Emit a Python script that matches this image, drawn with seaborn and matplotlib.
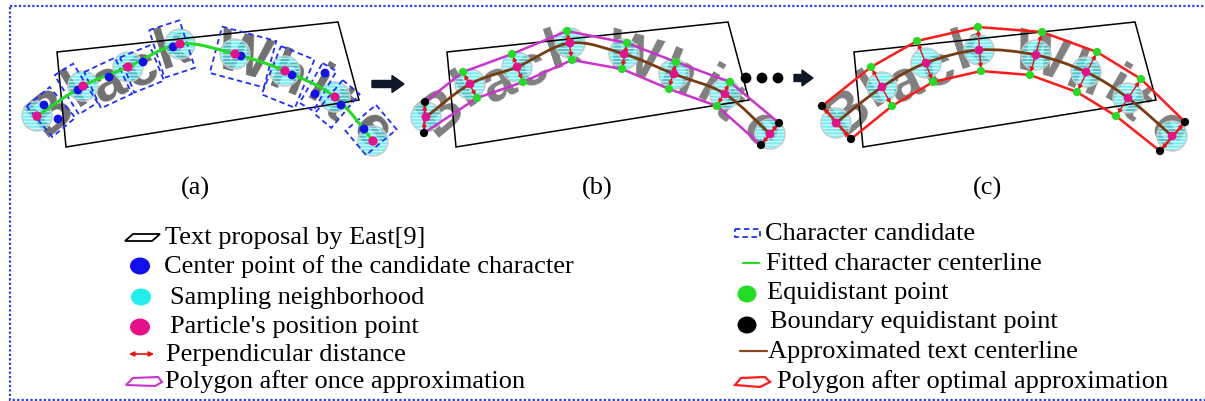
import numpy as np
import matplotlib
matplotlib.use("Agg")
import matplotlib.pyplot as plt
import seaborn as sns
from matplotlib.patches import Polygon, Rectangle, Circle, PathPatch, FancyArrow, Ellipse
from matplotlib.path import Path

# ---- data (pixel coordinates) ----
panel_labels = ["(a)", "(b)", "(c)"]
panel_dx = [0, 390, 797]
label_x = [195, 597, 988]

proposal_x = [57, 338, 359, 66]
proposal_y = [53, 23, 101, 148]

# particles (pink) per panel
a_part_x = [37, 83, 128, 180, 235, 285, 335, 373]
a_part_y = [117, 87, 68, 45, 55, 72, 98, 142]
b_part_x = [426, 470, 517, 570, 624, 674, 725, 770]
b_part_y = [118, 85, 68, 44, 55, 75, 95, 135]
c_part_x = [836, 882, 926, 979, 1036, 1086, 1128, 1172]
c_part_y = [124, 88, 64, 51, 56, 73, 99, 137]

# candidate centre points (blue) in panel (a)
center_x = [44, 58, 78, 109, 143, 173, 241, 292, 325, 315, 341, 364]
center_y = [106, 120, 91, 78, 63, 48, 57, 76, 74, 95, 106, 130]

# letters of "Black White" in panel (a)
chars = ["B", "l", "a", "c", "k", "W", "h", "i", "t", "e"]
letter_x = [51, 76, 108, 142, 172, 243, 288, 318, 337, 371]
letter_y = [113, 90, 84, 70, 50, 58, 78, 88, 105, 131]
letter_rot = [40, 32, 25, 22, 18, -15, -22, -30, -40, -50]
box_w = [30, 22, 34, 32, 32, 56, 36, 16, 22, 32]
box_h = [40, 46, 40, 38, 50, 48, 52, 46, 44, 40]

# polygon after once approximation (b)
b_upper_x = [425, 463, 512, 567, 627, 676, 730, 779]
b_upper_y = [103, 73, 55, 32, 44, 63, 83, 124]
b_lower_x = [424, 477, 523, 572, 622, 669, 717, 761]
b_lower_y = [134, 99, 83, 61, 70, 90, 107, 146]

# polygon after optimal approximation (c)
c_upper_x = [822, 871, 917, 978, 1042, 1097, 1141, 1185]
c_upper_y = [107, 68, 42, 28, 33, 53, 80, 123]
c_lower_x = [851, 892, 933, 981, 1030, 1077, 1116, 1160]
c_lower_y = [140, 107, 83, 72, 76, 93, 117, 152]

legend_left = ["Text proposal by East[9]", "Center point of the candidate character",
               "Sampling neighborhood", "Particle's position point",
               "Perpendicular distance", "Polygon after once approximation"]
legend_left_x = [165, 164, 170, 170, 166, 165]
legend_left_y = [238, 267, 298, 327, 355, 382]
legend_right = ["Character candidate", "Fitted character centerline", "Equidistant point",
                "Boundary equidistant point", "Approximated text centerline",
                "Polygon after optimal approximation"]
legend_right_x = [765, 766, 767, 770, 768, 777]
legend_right_y = [234, 264, 293, 322, 352, 382]

sns.set_theme(style="white")
plt.rcParams["hatch.linewidth"] = 1.0
serif = ["Liberation Serif", "DejaVu Serif"]

fig = plt.figure(figsize=(12.05, 4.02), dpi=100)
ax = fig.add_axes([0, 0, 1, 1])
ax.set_xlim(0, 1205)
ax.set_ylim(402, 0)
ax.axis("off")


def smooth_path(xs, ys):
    pts = np.column_stack([xs, ys]).astype(float)
    verts = [pts[0]]
    codes = [Path.MOVETO]
    n = len(pts)
    for i in range(n - 1):
        p0, p1 = pts[max(i - 1, 0)], pts[i]
        p2, p3 = pts[i + 1], pts[min(i + 2, n - 1)]
        verts += [p1 + (p2 - p0) / 6, p2 - (p3 - p1) / 6, p2]
        codes += [Path.CURVE4] * 3
    return Path(verts, codes)


def sampling_circles(xs, ys, r=15):
    for x, y in zip(xs, ys):
        ax.add_patch(Circle((x, y), r, facecolor="#2ee6ee", edgecolor="white",
                            hatch="-----", lw=0, alpha=0.65, zorder=2))
        ax.add_patch(Circle((x, y), r, facecolor="none", edgecolor="#c8c8c8",
                            lw=1, zorder=2))


# outer dotted frame
ax.add_patch(Rectangle((10, 7), 1210, 394, fill=False, ec="#2a3cf0", lw=1.6,
                       ls=(0, (1, 1)), zorder=1))

# text proposals and letters in every panel
for k, dx in enumerate(panel_dx):
    px = [x + dx for x in proposal_x]
    ax.add_patch(Polygon(np.column_stack([px, proposal_y]), closed=True, fill=False,
                         ec="black", lw=1.1, zorder=3))
    gray = "#707070" if k == 0 else "#808080"
    for ch, x, y, r in zip(chars, letter_x, letter_y, letter_rot):
        ax.text(x + dx, y, ch, rotation=r, ha="center", va="center", fontsize=41,
                fontweight="bold", color=gray, family="Liberation Sans", zorder=1.5)
    ax.text(label_x[k], 188, panel_labels[k], ha="center", va="center", fontsize=19,
            family=serif, color="black")

# panel (a): candidate boxes, circles, centerline, points
for x, y, r, w, h in zip(letter_x, letter_y, letter_rot, box_w, box_h):
    ax.add_patch(Rectangle((x - w / 2, y - h / 2), w, h, angle=-r, rotation_point="center",
                           fill=False, ec="#1f2fff", lw=1.3, ls=(0, (3, 2)), zorder=3))
sampling_circles(a_part_x, a_part_y)
ax.add_patch(PathPatch(smooth_path(a_part_x, a_part_y), fill=False, ec="#22dd22", lw=2.2,
                       zorder=4))
sns.scatterplot(x=center_x, y=center_y, color="#1010ee", s=40, edgecolor="none", ax=ax,
                zorder=5, legend=False)
sns.scatterplot(x=a_part_x, y=a_part_y, color="#e8108a", s=45, edgecolor="none", ax=ax,
                zorder=6, legend=False)

# panels (b) and (c)
for part_x, part_y, up_x, up_y, lo_x, lo_y, pcol in [
        (b_part_x, b_part_y, b_upper_x, b_upper_y, b_lower_x, b_lower_y, "#cc33cc"),
        (c_part_x, c_part_y, c_upper_x, c_upper_y, c_lower_x, c_lower_y, "#ff1a1a")]:
    sampling_circles(part_x, part_y)
    ax.add_patch(PathPatch(smooth_path(part_x, part_y), fill=False, ec="#7a3b10", lw=2,
                           zorder=4))
    poly = np.column_stack([list(up_x) + list(lo_x[::-1]), list(up_y) + list(lo_y[::-1])])
    ax.add_patch(Polygon(poly, closed=True, fill=False, ec=pcol, lw=1.8, zorder=4))
    for x1, y1, x2, y2 in zip(up_x, up_y, lo_x, lo_y):
        ax.annotate("", xy=(x1, y1), xytext=(x2, y2), zorder=5,
                    arrowprops=dict(arrowstyle="<|-|>", color="#ee1111", lw=1.0,
                                    mutation_scale=6, shrinkA=2, shrinkB=2))
    sns.scatterplot(x=part_x, y=part_y, color="#e8108a", s=40, edgecolor="none", ax=ax,
                    zorder=6, legend=False)
    sns.scatterplot(x=list(up_x[1:-1]) + list(lo_x[1:-1]),
                    y=list(up_y[1:-1]) + list(lo_y[1:-1]),
                    color="#22dd22", s=35, edgecolor="none", ax=ax, zorder=6, legend=False)
    sns.scatterplot(x=[up_x[0], up_x[-1], lo_x[0], lo_x[-1]],
                    y=[up_y[0], up_y[-1], lo_y[0], lo_y[-1]],
                    color="black", s=35, edgecolor="none", ax=ax, zorder=6, legend=False)

# arrows between panels
ax.add_patch(FancyArrow(372, 85, 20, 0, width=7, head_width=17, head_length=12,
                        color="#101828", zorder=5))
sns.scatterplot(x=[746, 762, 778], y=[79, 79, 79], color="black", s=60, edgecolor="none",
                ax=ax, zorder=5, legend=False)
ax.add_patch(FancyArrow(794, 79, 8, 0, width=7, head_width=16, head_length=11,
                        color="#101828", zorder=5))

# legend, left column
ax.add_patch(Polygon([(125, 242), (133, 235), (160, 235), (152, 242)], closed=True,
                     fill=False, ec="black", lw=1.3))
for (x, y), col in zip([(140, 267), (141, 298), (140, 328)],
                       ["#1010ee", "#22eeee", "#e8108a"]):
    ax.add_patch(Ellipse((x, y), 20, 17, color=col, lw=0))
ax.annotate("", xy=(129, 355), xytext=(154, 355),
            arrowprops=dict(arrowstyle="<|-|>", color="#ee1111", lw=1.2,
                            mutation_scale=7, shrinkA=0, shrinkB=0))
ax.add_patch(Polygon([(126, 386), (133, 379), (158, 378), (162, 383), (155, 387)],
                     closed=True, fill=False, ec="#cc33cc", lw=1.5))
for t, x, y in zip(legend_left, legend_left_x, legend_left_y):
    ax.text(x, y, t, ha="left", va="center", fontsize=19, family=serif, color="black")

# legend, right column
ax.add_patch(Rectangle((735, 230), 25, 8, fill=False, ec="#1f2fff", lw=1.3,
                       ls=(0, (3, 2))))
sns.lineplot(x=[743, 759], y=[264, 264], color="#22dd22", lw=1.6, ax=ax)
for (x, y), col in zip([(747, 295), (747, 326)], ["#22dd22", "black"]):
    ax.add_patch(Ellipse((x, y), 19, 17, color=col, lw=0))
sns.lineplot(x=[740, 767], y=[352, 352], color="#8a4a20", lw=1.6, ax=ax)
ax.add_patch(Polygon([(735, 386), (741, 379), (765, 378), (770, 383), (760, 388)],
                     closed=True, fill=False, ec="#ff1a1a", lw=1.6))
for t, x, y in zip(legend_right, legend_right_x, legend_right_y):
    ax.text(x, y, t, ha="left", va="center", fontsize=19, family=serif, color="black")

ax.set_xlim(0, 1205)
ax.set_ylim(402, 0)
fig.savefig("out.png", dpi=100)
